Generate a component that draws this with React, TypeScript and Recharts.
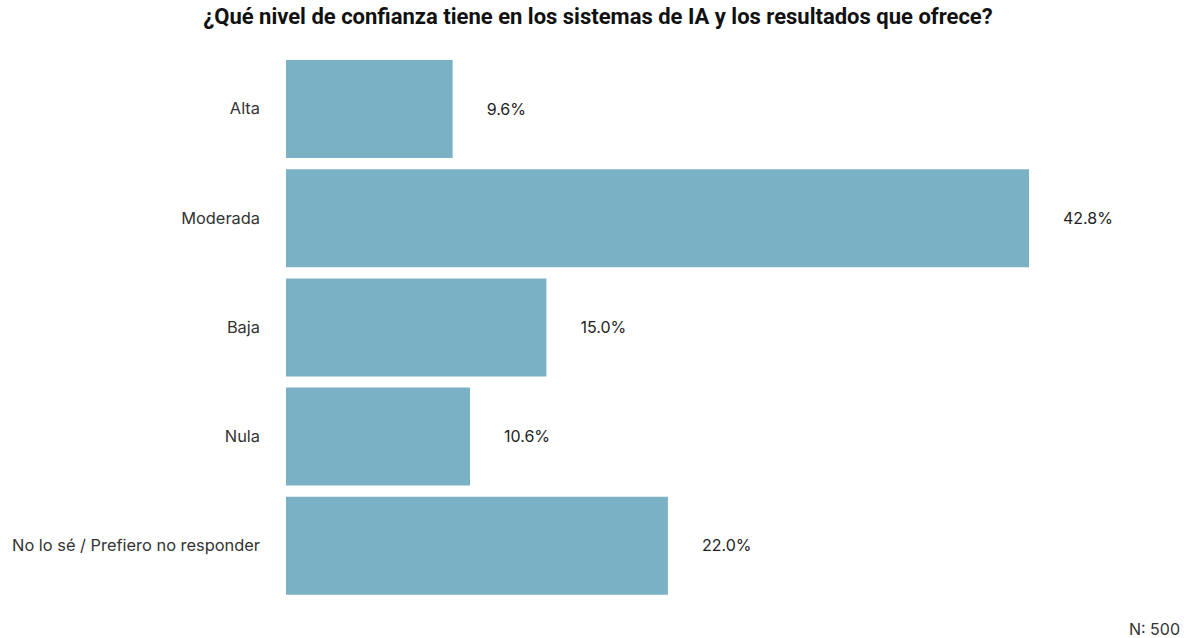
import { BarChart, Bar, XAxis, YAxis, LabelList } from "recharts";

const categories = [
  "Alta",
  "Moderada",
  "Baja",
  "Nula",
  "No lo sé / Prefiero no responder",
];
const values = [9.6, 42.8, 15.0, 10.6, 22.0];

const data = categories.map((name, i) => ({ name, value: values[i] }));

export default function App() {
  return (
    <div
      style={{
        position: "absolute",
        left: 0,
        top: 0,
        width: 1184,
        height: 638,
        background: "#fff",
        fontFamily: "Inter, sans-serif",
      }}
    >
      <div
        style={{
          position: "absolute",
          top: 4,
          left: 0,
          width: 1196,
          textAlign: "center",
          fontFamily: "Roboto, sans-serif",
          fontWeight: 700,
          fontSize: 22,
          color: "#111",
        }}
      >
        ¿Qué nivel de confianza tiene en los sistemas de IA y los resultados que ofrece?
      </div>
      <BarChart
        width={1184}
        height={638}
        data={data}
        layout="vertical"
        margin={{ top: 54, right: 30, left: 0, bottom: 38 }}
      >
        <XAxis type="number" domain={[0, 50]} hide />
        <YAxis
          type="category"
          dataKey="name"
          width={286}
          axisLine={false}
          tickLine={false}
          tickSize={0}
          tickMargin={26}
          tick={{ fill: "#333", fontSize: 16.4, fontFamily: "Inter, sans-serif" }}
        />
        <Bar
          dataKey="value"
          fill="#7bb1c5"
          barSize={98}
          isAnimationActive={false}
        >
          <LabelList
            dataKey="value"
            position="right"
            offset={34}
            fill="#222"
            fontSize={16}
            fontFamily="Inter, sans-serif"
            formatter={(v: unknown) => `${Number(v).toFixed(1)}%`}
          />
        </Bar>
      </BarChart>
      <div
        style={{
          position: "absolute",
          right: 4,
          top: 619,
          fontSize: 16,
          color: "#333",
        }}
      >
        N: 500
      </div>
    </div>
  );
}
